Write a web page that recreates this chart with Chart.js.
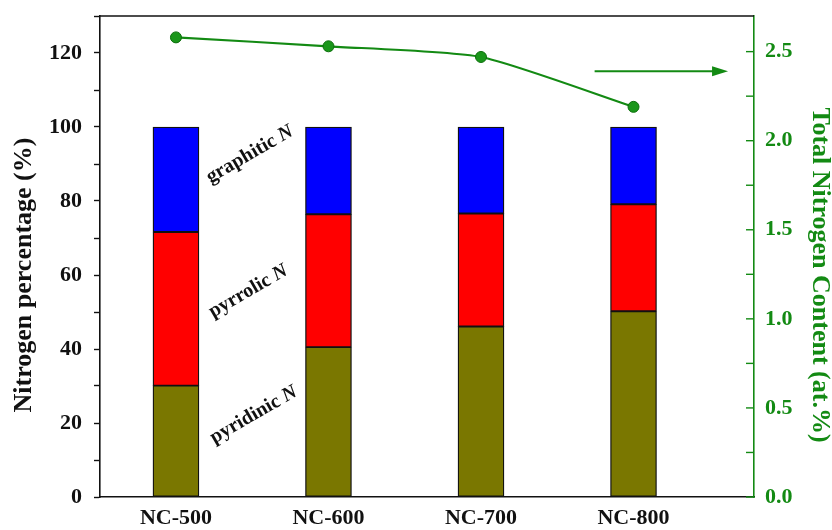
<!DOCTYPE html>
<html>
<head>
<meta charset="utf-8">
<script src="https://cdn.jsdelivr.net/npm/chart.js@4/dist/chart.umd.min.js"></script>
<style>
  html, body { margin: 0; padding: 0; background: #fff; }
  #wrap { width: 832px; height: 530px; }
</style>
</head>
<body>
<div id="wrap"><canvas id="c" width="832" height="530"></canvas></div>
<script>
const categories = ['NC-500', 'NC-600', 'NC-700', 'NC-800'];
const pyridinicN = [30.1, 40.5, 46.1, 50.2];
const pyrrolicN  = [41.5, 35.9, 30.5, 28.9];
const graphiticN = [28.4, 23.6, 23.4, 20.9];
const totalN     = [2.58, 2.53, 2.47, 2.19];
const leftTicks = [0, 20, 40, 60, 80, 100, 120];
const rightTicks = [0.0, 0.5, 1.0, 1.5, 2.0, 2.5];

const GREEN = '#138a13';
const FONT = 'Liberation Serif';

const pts = arr => arr.map((v, i) => ({ x: i, y: v }));

const annotations = [
  { text: 'graphitic ', italic: 'N', x: 0.485, y: 92.6 },
  { text: 'pyrrolic ',  italic: 'N', x: 0.475, y: 55.6 },
  { text: 'pyridinic ', italic: 'N', x: 0.51, y: 22.2 }
];

const noPad = s => { s.paddingTop = 0; s.paddingBottom = 0; s.paddingLeft = 0; s.paddingRight = 0; };

const decor = {
  id: 'decor',
  afterDatasetsDraw(chart) {
    const ctx = chart.ctx;
    const ca = chart.chartArea;
    const xs = chart.scales.x, yl = chart.scales.y, yr = chart.scales.yR;
    ctx.save();
    // top border
    ctx.strokeStyle = '#111';
    ctx.lineWidth = 1.6;
    ctx.beginPath();
    ctx.moveTo(ca.left, ca.top);
    ctx.lineTo(ca.right, ca.top);
    ctx.stroke();
    // right axis inward ticks
    ctx.strokeStyle = GREEN;
    ctx.lineWidth = 1.4;
    yr.ticks.forEach(t => {
      const q = Math.round(t.value * 4);
      if (Math.abs(t.value * 4 - q) > 1e-6) return;
      const yy = yr.getPixelForValue(t.value);
      ctx.beginPath();
      ctx.moveTo(ca.right - 8, yy);
      ctx.lineTo(ca.right, yy);
      ctx.stroke();
    });
    // arrow pointing to right axis
    const ay = yr.getPixelForValue(2.39);
    const ax0 = xs.getPixelForValue(2.745);
    const ax1 = xs.getPixelForValue(3.62);
    ctx.strokeStyle = GREEN;
    ctx.fillStyle = GREEN;
    ctx.lineWidth = 2.2;
    ctx.beginPath();
    ctx.moveTo(ax0, ay);
    ctx.lineTo(ax1 - 12, ay);
    ctx.stroke();
    ctx.beginPath();
    ctx.moveTo(ax1, ay);
    ctx.lineTo(ax1 - 16, ay - 5);
    ctx.lineTo(ax1 - 16, ay + 5);
    ctx.closePath();
    ctx.fill();
    // annotations
    ctx.fillStyle = '#111';
    ctx.textBaseline = 'middle';
    annotations.forEach(a => {
      const px = xs.getPixelForValue(a.x);
      const py = yl.getPixelForValue(a.y);
      ctx.save();
      ctx.translate(px, py);
      ctx.rotate(-30 * Math.PI / 180);
      ctx.font = 'bold 20px "' + FONT + '"';
      const w1 = ctx.measureText(a.text).width;
      ctx.font = 'italic bold 20px "' + FONT + '"';
      const w2 = ctx.measureText(a.italic).width;
      const start = -(w1 + w2) / 2;
      ctx.textAlign = 'left';
      ctx.font = 'bold 20px "' + FONT + '"';
      ctx.fillText(a.text, start, 0);
      ctx.font = 'italic bold 20px "' + FONT + '"';
      ctx.fillText(a.italic, start + w1, 0);
      ctx.restore();
    });
    // axis titles
    const ty = yl.getPixelForValue(60);
    ctx.font = 'bold 26px "' + FONT + '"';
    ctx.textAlign = 'center';
    ctx.textBaseline = 'middle';
    ctx.save();
    ctx.translate(24, ty);
    ctx.rotate(-Math.PI / 2);
    ctx.fillStyle = '#111';
    ctx.fillText('Nitrogen percentage (%)', 0, 0);
    ctx.restore();
    ctx.save();
    ctx.translate(820, ty);
    ctx.rotate(Math.PI / 2);
    ctx.fillStyle = GREEN;
    ctx.fillText('Total Nitrogen Content (at.%)', 0, 0);
    ctx.restore();
    ctx.restore();
  }
};

const barCommon = { type: 'bar', yAxisID: 'y', xAxisID: 'x', stack: 'N', barThickness: 46,
  borderColor: '#111', borderWidth: 1.3, borderSkipped: false, order: 2 };

new Chart(document.getElementById('c'), {
  data: {
    datasets: [
      Object.assign({}, barCommon, { label: 'pyridinic N', data: pts(pyridinicN), backgroundColor: '#7a7700' }),
      Object.assign({}, barCommon, { label: 'pyrrolic N', data: pts(pyrrolicN), backgroundColor: '#ff0000' }),
      Object.assign({}, barCommon, { label: 'graphitic N', data: pts(graphiticN), backgroundColor: '#0000ff' }),
      { type: 'line', label: 'Total N', data: pts(totalN), yAxisID: 'yR', xAxisID: 'x', stack: 'line',
        borderColor: GREEN, borderWidth: 2.2, tension: 0.2, pointRadius: 5.5,
        pointBackgroundColor: '#1a961a', pointBorderColor: '#0b6e0b', pointBorderWidth: 1, order: 0 }
    ]
  },
  options: {
    responsive: false,
    animation: false,
    devicePixelRatio: 1,
    layout: { padding: { top: 16, left: 0, right: 0, bottom: 0 } },
    plugins: { legend: { display: false }, tooltip: { enabled: false } },
    scales: {
      x: {
        type: 'linear', position: 'bottom', stacked: true, offset: false,
        min: -0.498, max: 3.79,
        afterBuildTicks: s => { s.ticks = categories.map((c, i) => ({ value: i })); },
        ticks: { stepSize: 1, padding: 8, color: '#111', font: { family: FONT, size: 22, weight: 'bold' },
          callback: v => categories[v] !== undefined ? categories[v] : '' , maxRotation: 0, autoSkip: false },
        grid: { display: false, drawTicks: false, offset: false },
        border: { display: true, color: '#111', width: 1.6 },
        afterFit: s => { s.height = 33; noPad(s); }
      },
      y: {
        type: 'linear', position: 'left', stacked: true,
        min: 0, max: 130,
        afterBuildTicks: s => {
          const t = [];
          for (let v = 0; v <= 130; v += 10) t.push({ value: v });
          s.ticks = t;
        },
        ticks: { padding: 12, color: '#111', font: { family: FONT, size: 22, weight: 'bold' },
          callback: v => leftTicks.includes(v) ? String(v) : '' },
        grid: { drawOnChartArea: false, drawTicks: true, tickLength: 6, color: '#111', tickWidth: 1.4 },
        border: { display: true, color: '#111', width: 1.6 },
        afterFit: s => { s.width = 100; noPad(s); }
      },
      yR: {
        type: 'linear', position: 'right', stacked: false,
        min: 0, max: 2.7,
        afterBuildTicks: s => {
          const t = [];
          for (let k = 0; k <= 10; k++) t.push({ value: k * 0.25 });
          s.ticks = t;
        },
        ticks: { padding: 11, color: GREEN, font: { family: FONT, size: 22, weight: 'bold' },
          callback: v => {
            const m = rightTicks.find(r => Math.abs(r - v) < 1e-6);
            return m !== undefined ? m.toFixed(1) : '';
          } },
        grid: { display: false, drawTicks: false },
        border: { display: true, color: GREEN, width: 1.6 },
        afterFit: s => { s.width = 78; noPad(s); }
      }
    }
  },
  plugins: [decor]
});
</script>
</body>
</html>
